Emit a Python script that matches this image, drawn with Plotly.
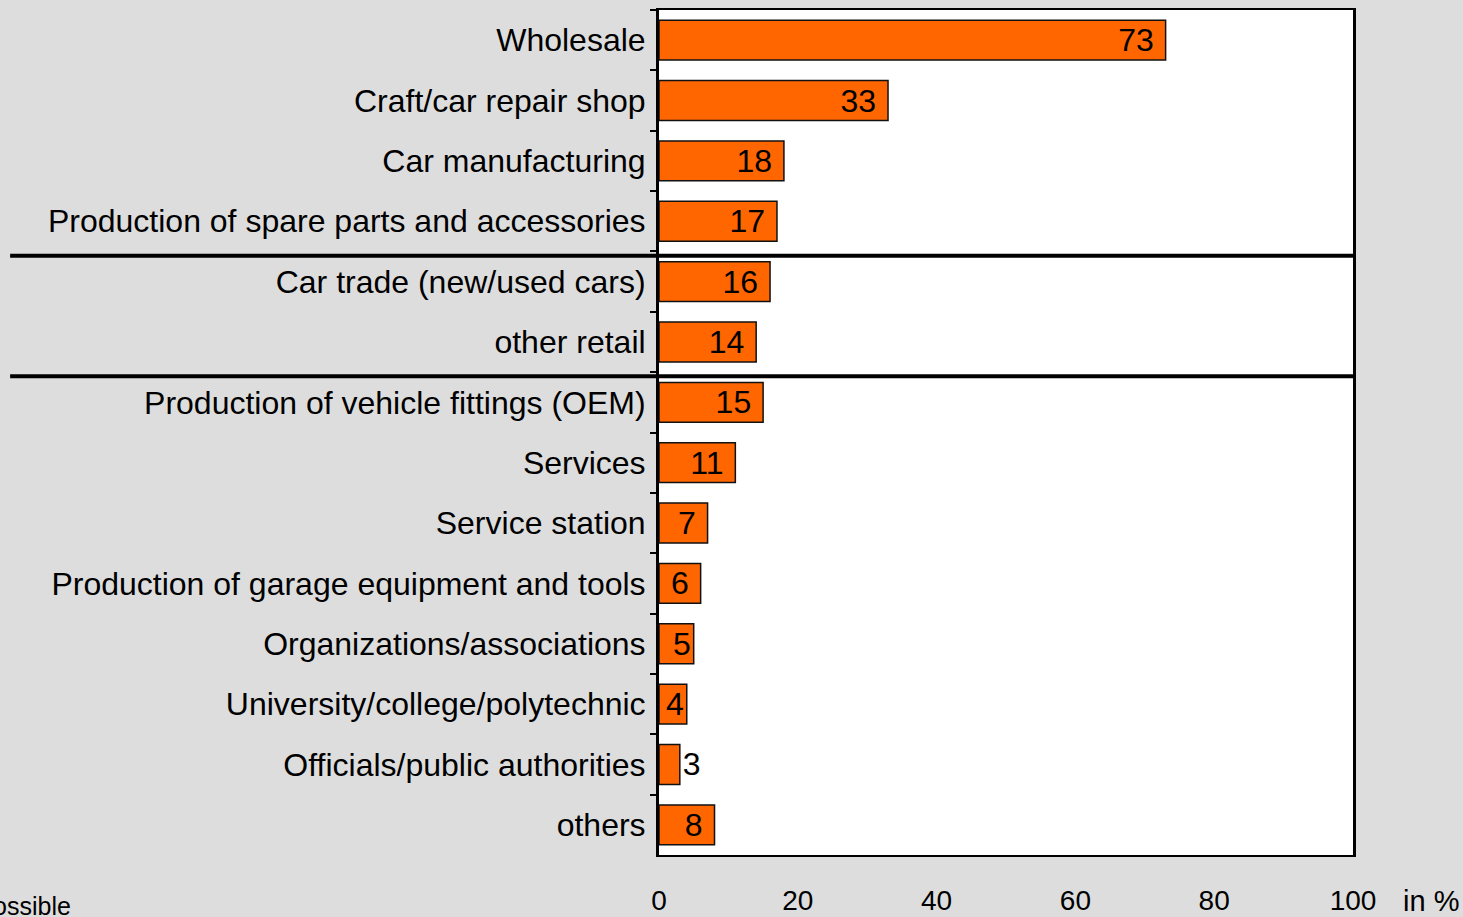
import plotly.graph_objects as go

# Survey: fields of activity of participants (share of respondents, in %)
categories = [
    "Wholesale",
    "Craft/car repair shop",
    "Car manufacturing",
    "Production of spare parts and accessories",
    "Car trade (new/used cars)",
    "other retail",
    "Production of vehicle fittings (OEM)",
    "Services",
    "Service station",
    "Production of garage equipment and tools",
    "Organizations/associations",
    "University/college/polytechnic",
    "Officials/public authorities",
    "others",
]
shares = [73, 33, 18, 17, 16, 14, 15, 11, 7, 6, 5, 4, 3, 8]
x_ticks = [0, 20, 40, 60, 80, 100]
# group separators sit after these category indices
separators_after = [3, 5]

FONT = "Liberation Sans, Arial, sans-serif"
BG = "#dddddd"
ORANGE = "#ff6600"
NBSP = "\u00a0"

text_pos = ["outside" if v < 4 else "inside" for v in shares]
# a little breathing room before the bar end where the label fits
labels = [f"{v}{NBSP}" if v > 5 else str(v) for v in shares]

fig = go.Figure(
    go.Bar(
        x=shares,
        y=categories,
        orientation="h",
        marker=dict(color=ORANGE, line=dict(color="#111111", width=1.5)),
        text=labels,
        textposition=text_pos,
        insidetextanchor="end",
        textangle=0,
        textfont=dict(family=FONT, size=32, color="#000000"),
        cliponaxis=False,
    )
)

for i in separators_after:
    fig.add_shape(
        type="line",
        xref="paper",
        yref="y",
        x0=-0.935,
        x1=1.004,
        y0=i + 0.57,
        y1=i + 0.57,
        line=dict(color="#000000", width=4),
        layer="above",
    )

fig.add_annotation(
    text="in %",
    xref="paper",
    yref="paper",
    x=1.155,
    y=-0.054,
    xanchor="right",
    yanchor="middle",
    showarrow=False,
    font=dict(family=FONT, size=29, color="#000000"),
)
fig.add_annotation(
    text="Multiple answers possible",
    xref="paper",
    yref="paper",
    x=-0.845,
    y=-0.06,
    xanchor="right",
    yanchor="middle",
    showarrow=False,
    font=dict(family=FONT, size=25, color="#000000"),
)

fig.update_layout(
    width=1463,
    height=917,
    paper_bgcolor=BG,
    plot_bgcolor="#ffffff",
    margin=dict(l=659, r=110, t=10, b=62),
    bargap=0.34,
    showlegend=False,
    font=dict(family=FONT, size=32, color="#000000"),
    uniformtext=dict(minsize=32, mode="show"),
)
fig.update_xaxes(
    range=[0, 100],
    tickvals=x_ticks,
    ticktext=[str(t) for t in x_ticks],
    showgrid=False,
    zeroline=False,
    showline=True,
    linecolor="#000000",
    linewidth=2,
    mirror=True,
    ticks="",
    ticklabelstandoff=19,
    automargin=False,
    tickfont=dict(family=FONT, size=28, color="#000000"),
)
fig.update_yaxes(
    autorange="reversed",
    showgrid=False,
    showline=True,
    linecolor="#000000",
    linewidth=3,
    mirror=True,
    ticks="outside",
    tickson="boundaries",
    ticklen=6,
    tickwidth=2,
    tickcolor="#000000",
    ticklabelstandoff=4,
    automargin=False,
    tickfont=dict(family=FONT, size=32, color="#000000"),
)

fig.write_html("out.html")
